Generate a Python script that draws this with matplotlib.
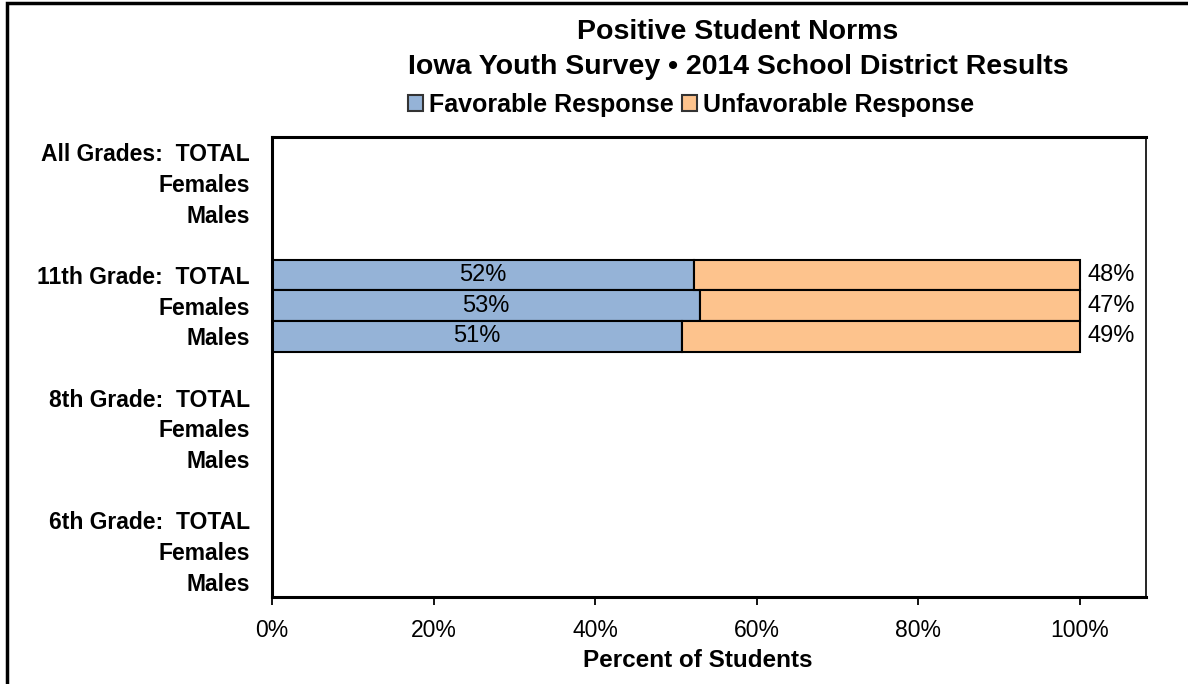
import matplotlib
matplotlib.use("Agg")
import matplotlib.pyplot as plt
import numpy as np
from matplotlib.patches import Patch, Rectangle

plt.rcParams['font.family'] = ['Liberation Sans', 'DejaVu Sans']

categories = ["All Grades:  TOTAL", "Females", "Males", "",
              "11th Grade:  TOTAL", "Females", "Males", "",
              "8th Grade:  TOTAL", "Females", "Males", "",
              "6th Grade:  TOTAL", "Females", "Males"]
favorable = [np.nan, np.nan, np.nan, np.nan,
             52.2, 53.0, 50.7, np.nan,
             np.nan, np.nan, np.nan, np.nan,
             np.nan, np.nan, np.nan]
unfavorable = [np.nan, np.nan, np.nan, np.nan,
               47.8, 47.0, 49.3, np.nan,
               np.nan, np.nan, np.nan, np.nan,
               np.nan, np.nan, np.nan]
fav_labels = ["", "", "", "", "52%", "53%", "51%", "", "", "", "", "", "", "", ""]
unf_labels = ["", "", "", "", "48%", "47%", "49%", "", "", "", "", "", "", "", ""]
xticks = [0, 20, 40, 60, 80, 100]
xtick_labels = ["0%", "20%", "40%", "60%", "80%", "100%"]

c_fav = "#95B3D7"
c_unf = "#FDC38D"

fig = plt.figure(figsize=(11.88, 6.84), dpi=100)
ax = fig.add_axes([272/1188, 1-597/684, (1146-272)/1188, (597-137)/684])

y = np.arange(len(categories))
fav = np.array(favorable, dtype=float)
unf = np.array(unfavorable, dtype=float)
ax.barh(y, fav, height=1.0, color=c_fav, edgecolor="black", linewidth=1.5)
ax.barh(y, unf, left=fav, height=1.0, color=c_unf, edgecolor="black", linewidth=1.5)

for i in range(len(categories)):
    if fav_labels[i]:
        ax.text(fav[i]/2, y[i], fav_labels[i], ha="center", va="center", fontsize=17)
    if unf_labels[i]:
        ax.text(fav[i] + unf[i] + 0.9, y[i], unf_labels[i], ha="left", va="center", fontsize=17)

ax.set_ylim(len(categories) - 0.5, -0.5)
ax.set_xlim(0, 108.2)
ax.set_yticks(y)
ax.set_yticklabels(categories, fontsize=16.5, fontweight="bold")
ax.tick_params(axis="y", length=0, pad=16)
ax.set_xticks(xticks)
ax.set_xticklabels(xtick_labels, fontsize=16.5)
ax.tick_params(axis="x", direction="out", length=6, width=1.3, pad=10)
ax.set_xlabel("Percent of Students", fontsize=17.5, fontweight="bold", labelpad=5)
ax.xaxis.set_label_coords(0.487, -0.113)
for side in ["left", "bottom", "top"]:
    ax.spines[side].set_linewidth(2.2)
ax.spines["right"].set_linewidth(1.2)

fig.text(738/1188, 1-32/684, "Positive Student Norms", ha="center", va="center",
         fontsize=20.5, fontweight="bold")
fig.text(738/1188, 1-67/684, "Iowa Youth Survey \u2022 2014 School District Results",
         ha="center", va="center", fontsize=20.5, fontweight="bold")

handles = [Patch(facecolor=c_fav, edgecolor="#333333", linewidth=1.5),
           Patch(facecolor=c_unf, edgecolor="#333333", linewidth=1.5)]
fig.legend(handles, ["Favorable Response", "Unfavorable Response"], loc="center",
           bbox_to_anchor=(691/1188, 1-105/684), ncol=2, frameon=False,
           prop={"size": 18, "weight": "bold"}, handlelength=0.6, handleheight=0.6,
           handletextpad=0.25, columnspacing=0.3, borderaxespad=0)

fig.patches.append(Rectangle((7/1188, -0.1), 1.2, 1 - 3/684 + 0.1, transform=fig.transFigure,
                             fill=False, edgecolor="black", linewidth=2.5, zorder=10))

fig.savefig("out.png", dpi=100)
